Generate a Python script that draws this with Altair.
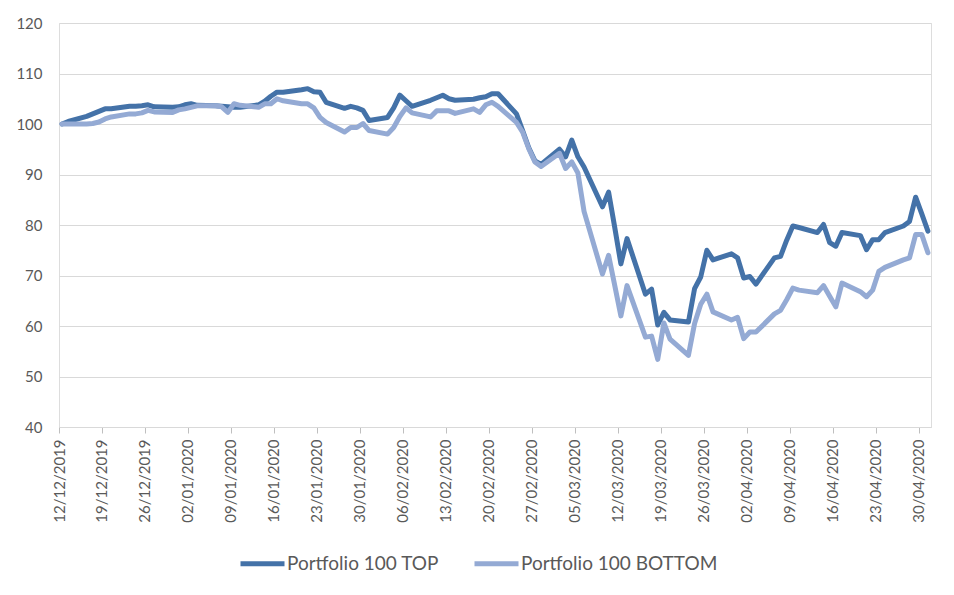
import altair as alt
import pandas as pd

# weekday trading dates, 12/12/2019 .. 01/05/2020
dates = list(pd.bdate_range("2019-12-12", "2020-05-01").strftime("%Y-%m-%d"))

top = [
    # Dec 2019
    100, 100.5, 101.5, 102, 102.5, 103, 103, 103.5, 103.5, 103.6, 103.8, 103.4, 103.3, 103.4,
    # Jan 2020
    103.8, 104, 103.7, 103.6, 103.5, 103.4, 103.3, 103.3, 103.8, 104.5, 105.5, 106.3, 106.3,
    106.8, 107, 106.4, 106.3, 104.3, 103.1, 103.5, 103.2, 102.7, 100.7,
    # Feb 2020
    101.3, 103.2, 105.7, 104.6, 103.5, 104.7, 105.2, 105.7, 105, 104.7, 104.9, 105.2, 105.4,
    106, 106, 102, 98.7, 95.3, 92.7, 92,
    # Mar 2020
    95, 93.5, 96.8, 93.5, 91.5, 83.6, 86.5, 79.5, 72.3, 77.3, 66.3, 67.3, 60.2, 62.7, 61.2,
    60.8, 67.4, 69.7, 75, 73.1, 74.3, 73.5,
    # Apr 2020
    69.5, 69.8, 68.3, 73.5, 73.8, 77, 79.8, 79.5, 78.5, 80.1, 76.5, 75.8, 78.5, 77.9, 75.1,
    77.1, 77.1, 78.5, 79.8, 80.7, 85.5, 82.2,
    # May 2020
    78.8,
]

bottom = [
    # Dec 2019
    100, 100, 100, 100.1, 100.4, 101, 101.4, 102, 102, 102.2, 102.7, 102.4, 102.3, 102.8,
    # Jan 2020
    103, 103.3, 103.6, 103.6, 103.4, 102.3, 104, 103.7, 103.3, 104, 104, 105, 104.6,
    104, 104, 103.2, 101.3, 100.3, 98.4, 99.3, 99.3, 100.1, 98.7,
    # Feb 2020
    98, 99.3, 101.5, 103.2, 102.2, 101.4, 102.6, 102.6, 102.6, 102.1, 103, 102.3, 103.8,
    104.3, 103.5, 100.3, 98.4, 95.1, 92.5, 91.6,
    # Mar 2020
    94.2, 91.2, 92.5, 90.3, 82.7, 70.3, 74, 68, 62, 68, 57.8, 58, 53.4, 60.6, 57.4,
    54.2, 60.5, 64.3, 66.3, 62.8, 61.2, 61.7,
    # Apr 2020
    57.5, 58.8, 58.8, 62.4, 63.1, 65.2, 67.5, 67.1, 66.6, 68, 65.9, 63.8, 68.5, 66.8, 65.8,
    67.1, 70.8, 71.6, 73.1, 73.5, 78.1, 78.1,
    # May 2020
    74.5,
]

series_names = ["Portfolio 100 TOP", "Portfolio 100 BOTTOM"]
series_colors = ["#4472a8", "#94aad4"]

tick_dates = [
    (2019, 12, 12), (2019, 12, 19), (2019, 12, 26), (2020, 1, 2), (2020, 1, 9),
    (2020, 1, 16), (2020, 1, 23), (2020, 1, 30), (2020, 2, 6), (2020, 2, 13),
    (2020, 2, 20), (2020, 2, 27), (2020, 3, 5), (2020, 3, 12), (2020, 3, 19),
    (2020, 3, 26), (2020, 4, 2), (2020, 4, 9), (2020, 4, 16), (2020, 4, 23),
    (2020, 4, 30),
]
y_ticks = [40, 50, 60, 70, 80, 90, 100, 110, 120]

df_top = pd.DataFrame({"date": dates, "value": top, "series": series_names[0]})
df_bot = pd.DataFrame({"date": dates, "value": bottom, "series": series_names[1]})

FONT = "Lato"
GREY = "#595959"

x_enc = alt.X(
    "t:T",
    scale=alt.Scale(
        type="utc",
        domain=[alt.DateTime(year=2019, month=12, date=12, utc=True),
                alt.DateTime(year=2020, month=5, date=2, utc=True)],
    ),
    axis=alt.Axis(
        title=None,
        values=[alt.DateTime(year=y, month=m, date=d, utc=True) for (y, m, d) in tick_dates],
        labelExpr="utcFormat(datum.value, '%d/%m/%Y')",
        labelAngle=270,
        labelFont=FONT,
        labelFontSize=15,
        labelColor=GREY,
        labelPadding=6,
        tickColor="#bfbfbf",
        tickSize=6,
        domainColor="#d9d9d9",
        grid=False,
        labelOverlap=False,
    ),
)
y_enc = alt.Y(
    "value:Q",
    scale=alt.Scale(domain=[40, 120], nice=False, zero=False),
    axis=alt.Axis(
        title=None,
        values=y_ticks,
        labelFont=FONT,
        labelFontSize=15,
        labelColor=GREY,
        labelPadding=17,
        ticks=False,
        domain=False,
        gridColor="#d9d9d9",
        gridWidth=1,
    ),
)
color_enc = alt.Color(
    "series:N",
    scale=alt.Scale(domain=series_names, range=series_colors),
    legend=alt.Legend(
        title=None,
        orient="none",
        direction="horizontal",
        legendX=179,
        legendY=516,
        symbolType="stroke",
        symbolSize=1936,
        symbolStrokeWidth=5,
        labelFont=FONT,
        labelFontSize=19,
        labelColor=GREY,
        labelOffset=0,
        labelLimit=400,
        columnPadding=25,
        padding=0,
    ),
)

def line_layer(df):
    return alt.Chart(df).transform_calculate(
        t="time(toDate(datum.date)) + 43200000"
    ).mark_line(strokeWidth=5, strokeCap="round", strokeJoin="round").encode(
        x=x_enc, y=y_enc, color=color_enc
    )

chart = alt.layer(line_layer(df_top), line_layer(df_bot)).properties(
    width=872,
    height=404,
    autosize=alt.AutoSizeParams(type="none"),
    padding={"left": 51, "top": 15, "right": 12, "bottom": 155},
).configure_view(stroke=None).configure(background="white")

chart.save("out.html", embed_options={"renderer": "svg", "actions": False})
